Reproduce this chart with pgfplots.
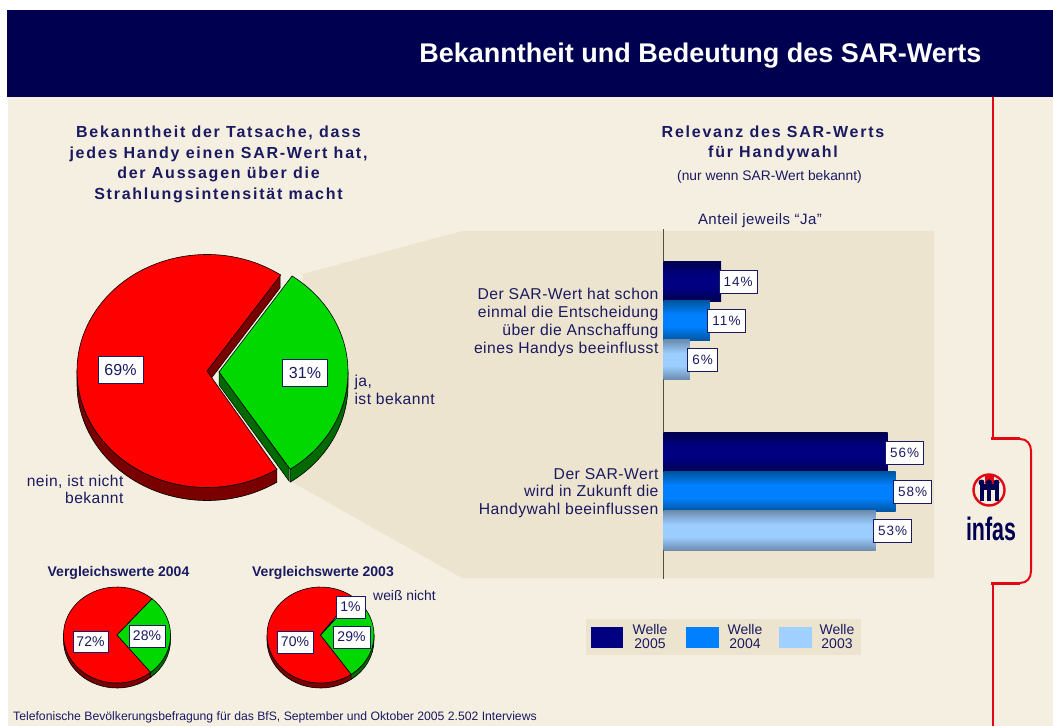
\documentclass[border=0pt]{standalone}
\usepackage{pgfplots}
\pgfplotsset{compat=1.18}
\usepackage{fontspec}
\setmainfont{Liberation Sans}
\newfontfamily\spaced[LetterSpace=11]{Liberation Sans}
\newfontfamily\lightsp[LetterSpace=3]{Liberation Sans}
\newfontfamily\numsp[LetterSpace=8]{Liberation Sans}
\definecolor{navy}{HTML}{000050}
\definecolor{ink}{HTML}{1A1A60}
\definecolor{bgc}{HTML}{F5EFE2}
\definecolor{panel}{HTML}{EDE4CF}
\definecolor{pred}{HTML}{FF0000}
\definecolor{pdred}{HTML}{7A0000}
\definecolor{pgreen}{HTML}{00D800}
\definecolor{pdgreen}{HTML}{006A00}
\definecolor{lred}{HTML}{E30613}
\definecolor{bdark}{HTML}{000080}
\definecolor{bmid}{HTML}{0080FF}
\definecolor{blight}{HTML}{A0D0FF}
\definecolor{bmide}{HTML}{0055A0}
\definecolor{blighte}{HTML}{6E8CAF}
\definecolor{blightm}{HTML}{9BCDFF}
\pgfdeclareverticalshading{shdark}{100bp}{color(0bp)=(navy); color(25bp)=(navy); color(42bp)=(bdark); color(58bp)=(bdark); color(75bp)=(navy); color(100bp)=(navy)}
\pgfdeclareverticalshading{shmid}{100bp}{color(0bp)=(bmide); color(25bp)=(bmide); color(42bp)=(bmid); color(58bp)=(bmid); color(75bp)=(bmide); color(100bp)=(bmide)}
\pgfdeclareverticalshading{shlight}{100bp}{color(0bp)=(blighte); color(25bp)=(blighte); color(42bp)=(blightm); color(58bp)=(blightm); color(75bp)=(blighte); color(100bp)=(blighte)}
\newcommand\fs[2]{\fontsize{#1}{#2}\selectfont}
% top wedge: cx cy rx ry start end colour
\newcommand\wedgetop[7]{\filldraw[draw=black,line width=.6pt,fill=#7] (axis cs:#1,#2) -- (axis cs:{#1+#3*cos(#5)},{#2-#4*sin(#5)}) arc[start angle=#5,end angle=#6,x radius=#3pt,y radius=#4pt] -- cycle;}
% rim: cx cy rx ry start end depth colour
\newcommand\wedgerim[8]{\filldraw[draw=black,line width=.6pt,fill=#8] (axis cs:{#1+#3*cos(#5)},{#2-#4*sin(#5)}) arc[start angle=#5,end angle=#6,x radius=#3pt,y radius=#4pt] -- ++(0,-#7pt) arc[start angle=#6,end angle=#5,x radius=#3pt,y radius=#4pt] -- cycle;}
% wall: ax ay bx by depth colour
\newcommand\wall[6]{\filldraw[draw=black,line width=.5pt,fill=#6] (axis cs:#1,#2) -- (axis cs:#3,#4) -- (axis cs:#3,#4+#5) -- (axis cs:#1,#2+#5) -- cycle;}
% valbox: position, text, size, width, height
\newcommand\valbox[5]{\node[draw=ink,fill=white,line width=.9pt,text=ink,font=\fs{#3}{#3},minimum height=#5pt,minimum width=#4pt,inner xsep=0pt,inner ysep=0pt] at (axis cs:#1) {#2};}
\newcommand\person[1]{\fill[navy] (axis cs:#1,482.5) circle[radius=3pt];\fill[navy] (axis cs:#1-2,484) rectangle (axis cs:#1+2,501);}
\begin{document}
\begin{tikzpicture}
\begin{axis}[name=frame,at={(0pt,0pt)},anchor=south west,scale only axis,width=1053pt,height=726pt,
  xmin=0,xmax=1053,ymin=0,ymax=726,y dir=reverse,hide axis,clip=false]
% page
\fill[white] (axis cs:0,0) rectangle (axis cs:1053,726);
\fill[bgc] (axis cs:8,97) rectangle (axis cs:1053,726);
\fill[navy] (axis cs:7,10) rectangle (axis cs:1053,97);
\node[anchor=east,text=white,font=\bfseries\fs{27}{32}] at (axis cs:985,55.5) {Bekanntheit und Bedeutung des SAR-Werts};
% right frame line
\draw[lred,line width=2pt] (axis cs:993,97) -- (axis cs:993,439);
\draw[lred,line width=2pt] (axis cs:993,582) -- (axis cs:993,726);
\draw[lred,line width=3pt] (axis cs:991,439) -- (axis cs:1020,439);
\draw[lred,line width=3pt] (axis cs:991,583) -- (axis cs:1020,583);
\draw[lred,line width=2pt] (axis cs:1020,439) .. controls (axis cs:1027,439) and (axis cs:1031,444) .. (axis cs:1031,451) -- (axis cs:1031,571) .. controls (axis cs:1031,578) and (axis cs:1027,583) .. (axis cs:1020,583);
% logo
\draw[lred,line width=2.4pt] (axis cs:989,490) circle[radius=15.5pt];
\fill[lred] (axis cs:985,474) rectangle (axis cs:994,486);
\fill[navy] (axis cs:979.5,484) rectangle (axis cs:998.5,490);
\person{981.5}\person{989}\person{996.5}
\node[text=navy,font=\bfseries\fs{20}{20},xscale=1.07,yscale=1.62,inner sep=0pt] at (axis cs:991,529) {infas};
% panel
\fill[panel] (axis cs:303,274) -- (axis cs:462,231) -- (axis cs:934,231) -- (axis cs:934,578) -- (axis cs:462,578) -- (axis cs:290,481) -- cycle;
% headings
\node[align=center,text=ink,font=\spaced\bfseries\fs{16}{20.5},anchor=center] at (axis cs:218.5,164.5) {Bekanntheit der Tatsache, dass\\jedes Handy einen SAR-Wert hat,\\der Aussagen über die\\Strahlungsintensität macht};
\node[align=center,text=ink,font=\spaced\bfseries\fs{16}{20},anchor=center] at (axis cs:773,143.5) {Relevanz des SAR-Werts\\für Handywahl};
\node[text=ink,font=\fs{13.8}{14}] at (axis cs:769.5,176.5) {(nur wenn SAR-Wert bekannt)};
\node[text=ink,font=\lightsp\fs{15}{16}] at (axis cs:760,220.5) {Anteil jeweils “Ja”};
% main pie
\wedgerim{207}{371}{130}{116.5}{180}{302.5}{13}{pdred}
\wall{207}{371}{280}{275}{13}{pdred}
\wedgetop{207}{371}{130}{116.5}{55.5}{302.5}{pred}
\wall{219}{372}{289}{468}{13}{pdgreen}
\wedgerim{219}{372}{129}{116.5}{-56.5}{0}{13}{pdgreen}
\wedgetop{219}{372}{129}{116.5}{-56.5}{55.5}{pgreen}
\valbox{120.5,369.5}{69\%}{16}{45}{27}
\valbox{305,372.5}{31\%}{16}{45}{27}
\node[anchor=west,align=left,text=ink,font=\lightsp\fs{15.7}{18}] at (axis cs:351,389.5) {ja,\\ist bekannt};
\node[anchor=east,align=right,text=ink,font=\lightsp\fs{15.6}{17}] at (axis cs:127,489) {nein, ist nicht\\bekannt};
% small pies
\node[text=ink,font=\bfseries\fs{14}{15}] at (axis cs:118.5,572.5) {Vergleichswerte 2004};
\node[text=ink,font=\bfseries\fs{14}{15}] at (axis cs:323,572.5) {Vergleichswerte 2003};
\wedgerim{117}{635}{53.5}{48}{180}{310}{5}{pdred}
\wedgerim{117}{635}{53.5}{48}{-51}{0}{5}{pdgreen}
\wedgetop{117}{635}{53.5}{48}{49}{309}{pred}
\wedgetop{117}{635}{53.5}{48}{-51}{49}{pgreen}
\wedgerim{320.5}{635}{53.5}{48}{180}{305}{5}{pdred}
\wedgerim{320.5}{635}{53.5}{48}{-55}{0}{5}{pdgreen}
\wedgetop{320.5}{635}{53.5}{48}{53}{305}{pred}
\wedgetop{320.5}{635}{53.5}{48}{-55}{50}{pgreen}
\wedgetop{320.5}{635}{53.5}{48}{50}{53}{white}
\valbox{90.5,641.5}{72\%}{14}{35}{21}
\valbox{147,636}{28\%}{14}{36}{22}
\valbox{295,642}{70\%}{14}{36}{22}
\valbox{351.5,637}{29\%}{14}{37}{22}
\valbox{350.5,607}{1\%}{14}{29}{22}
\node[text=ink,font=\fs{13.9}{15}] at (axis cs:404.5,595.5) {weiß nicht};
% bar category texts
\node[anchor=east,align=right,text=ink,font=\lightsp\fs{15.7}{18}] at (axis cs:662,322) {Der SAR-Wert hat schon\\einmal die Entscheidung\\über die Anschaffung\\eines Handys beeinflusst};
\node[anchor=east,align=right,text=ink,font=\lightsp\fs{15.7}{17.5}] at (axis cs:662,493) {Der SAR-Wert\\wird in Zukunft die\\Handywahl beeinflussen};
% legend
\fill[panel] (axis cs:586,619) rectangle (axis cs:861,655);
\fill[bdark] (axis cs:591,627) rectangle (axis cs:623,648);
\fill[bmid] (axis cs:686,627) rectangle (axis cs:719,648);
\fill[blight] (axis cs:779,627) rectangle (axis cs:812,648);
\node[align=center,text=ink,font=\fs{14}{14}] at (axis cs:650,636) {Welle\\2005};
\node[align=center,text=ink,font=\fs{14}{14}] at (axis cs:745,636) {Welle\\2004};
\node[align=center,text=ink,font=\fs{14}{14}] at (axis cs:837,636) {Welle\\2003};
% footer
\node[anchor=west,text=ink,font=\fs{12.2}{13},inner sep=0pt] at (axis cs:13,717) {Telefonische Bevölkerungsbefragung für das BfS, September und Oktober 2005 2.502 Interviews};
\end{axis}
\begin{axis}[at={(663.5pt,148pt)},anchor=south west,scale only axis,width=270.5pt,height=347pt,
  xmin=0,xmax=67.6,ymin=-0.5234,ymax=1.5058,y dir=reverse,
  axis x line=none,axis y line=left,y axis line style={-,draw={rgb,255:red,80;green,78;blue,60},line width=1pt,shorten <=-1.5pt,shorten >=-1pt},
  ytick=\empty,xtick=\empty,xbar,bar width=39.5pt,clip=false,
  point meta=explicit symbolic,nodes near coords,
  nodes near coords style={draw=ink,fill=white,line width=.9pt,text=ink,anchor=west,xshift=-2.5pt,
    font=\numsp\fs{13.5}{13.5},inner xsep=4.5pt,inner ysep=0pt,minimum height=23pt}]
% Welle 2005
\addplot[bar shift=39pt,draw=none,shade,shading=shdark] coordinates {(14.4,0) [14\%]};
\addplot[bar shift=39pt,draw=none,shade,shading=shdark] coordinates {(56,1) [56\%]};
% Welle 2004
\addplot[bar shift=0pt,draw=none,shade,shading=shmid] coordinates {(11.6,0) [11\%]};
\addplot[bar shift=0pt,draw=none,shade,shading=shmid] coordinates {(58,1) [58\%]};
% Welle 2003
\addplot[bar shift=-39pt,draw=none,shade,shading=shlight] coordinates {(6.6,0) [6\%]};
\addplot[bar shift=-39pt,draw=none,shade,shading=shlight] coordinates {(53,1) [53\%]};
\end{axis}
\end{tikzpicture}
\end{document}
